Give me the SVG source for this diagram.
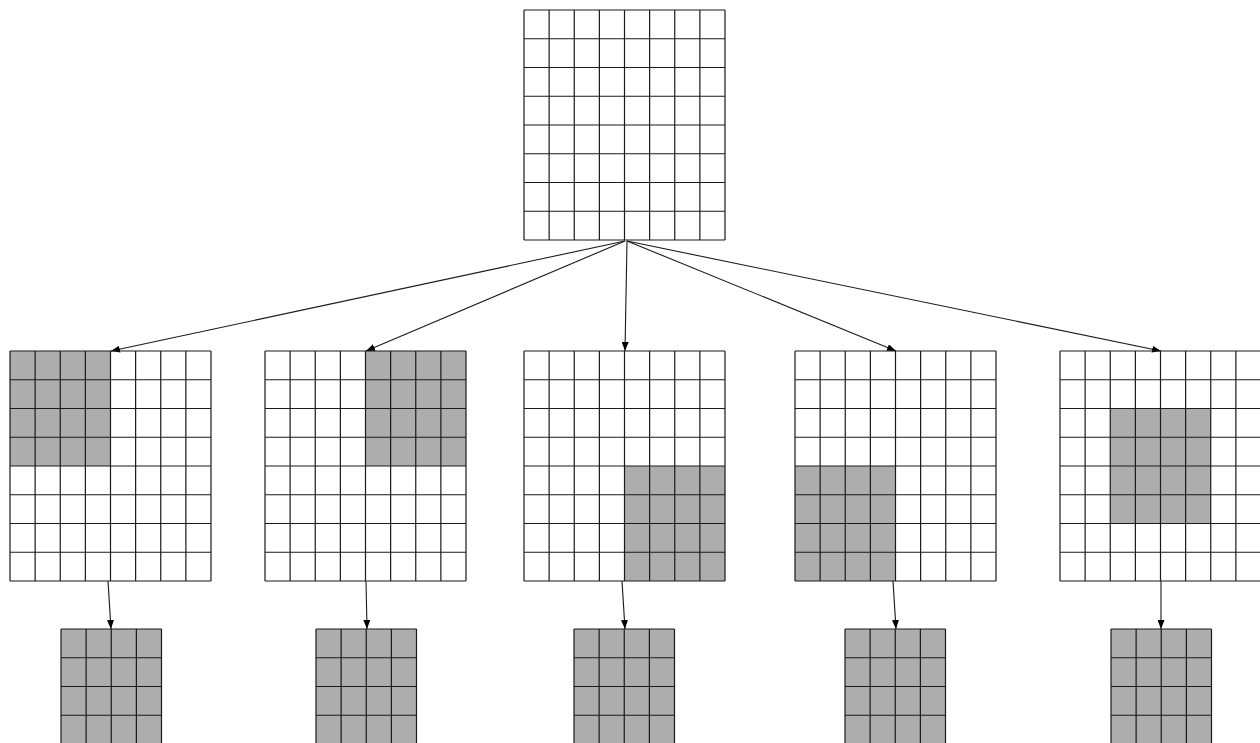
<svg xmlns="http://www.w3.org/2000/svg" xmlns:xlink="http://www.w3.org/1999/xlink" width="1260" height="743" viewBox="0 0 1260 743">
<style>
.gl{fill:none;stroke:#1a1a1a;stroke-width:1.2}
.sh{fill:#adadad;stroke:none}
.bg{fill:#ffffff;stroke:none}
.cn{fill:none;stroke:#1a1a1a;stroke-width:1.1}
</style>
<defs>
<marker id="ah" markerWidth="9" markerHeight="7" refX="9" refY="3.5" orient="auto" markerUnits="userSpaceOnUse">
<path d="M0,0 L9,3.5 L0,7 z" fill="#000"/>
</marker>
<g id="g8">
<path class="gl" d="M0,0V230M25.125,0V230M50.25,0V230M75.375,0V230M100.5,0V230M125.625,0V230M150.75,0V230M175.875,0V230M201,0V230M0,0H201M0,28.75H201M0,57.5H201M0,86.25H201M0,115H201M0,143.75H201M0,172.5H201M0,201.25H201M0,230H201"/>
</g>
<g id="g4">
<rect class="sh" x="0" y="0" width="100.5" height="115"/>
<path class="gl" d="M0,0V115M25.125,0V115M50.25,0V115M75.375,0V115M100.5,0V115M0,0H100.5M0,28.75H100.5M0,57.5H100.5M0,86.25H100.5M0,115H100.5"/>
</g>
</defs>
<rect class="bg" x="0" y="0" width="1260" height="743"/>
<g id="connectors">
<line class="cn" x1="625" y1="241" x2="111" y2="351" marker-end="url(#ah)"/>
<line class="cn" x1="625" y1="241" x2="366" y2="351" marker-end="url(#ah)"/>
<line class="cn" x1="627" y1="241" x2="625" y2="351" marker-end="url(#ah)"/>
<line class="cn" x1="627" y1="241" x2="896" y2="351" marker-end="url(#ah)"/>
<line class="cn" x1="627" y1="241" x2="1161" y2="351" marker-end="url(#ah)"/>
<line class="cn" x1="108" y1="581" x2="111" y2="629" marker-end="url(#ah)"/>
<line class="cn" x1="366" y1="581" x2="367" y2="629" marker-end="url(#ah)"/>
<line class="cn" x1="622" y1="581" x2="625" y2="629" marker-end="url(#ah)"/>
<line class="cn" x1="893" y1="581" x2="896" y2="629" marker-end="url(#ah)"/>
<line class="cn" x1="1161" y1="581" x2="1161" y2="629" marker-end="url(#ah)"/>
</g>
<g id="top">
<use xlink:href="#g8" href="#g8" x="524" y="10"/>
</g>
<g id="mid1">
<rect class="sh" x="10" y="351" width="100.5" height="115"/>
<use xlink:href="#g8" href="#g8" x="10" y="351"/>
</g>
<g id="mid2">
<rect class="sh" x="365.5" y="351" width="100.5" height="115"/>
<use xlink:href="#g8" href="#g8" x="265" y="351"/>
</g>
<g id="mid3">
<rect class="sh" x="624.5" y="466" width="100.5" height="115"/>
<use xlink:href="#g8" href="#g8" x="524" y="351"/>
</g>
<g id="mid4">
<rect class="sh" x="795" y="466" width="100.5" height="115"/>
<use xlink:href="#g8" href="#g8" x="795" y="351"/>
</g>
<g id="mid5">
<rect class="sh" x="1110.25" y="408.5" width="100.5" height="115"/>
<use xlink:href="#g8" href="#g8" x="1060" y="351"/>
</g>
<g id="out1"><use xlink:href="#g4" href="#g4" x="61" y="629"/></g>
<g id="out2"><use xlink:href="#g4" href="#g4" x="316" y="629"/></g>
<g id="out3"><use xlink:href="#g4" href="#g4" x="574" y="629"/></g>
<g id="out4"><use xlink:href="#g4" href="#g4" x="845" y="629"/></g>
<g id="out5"><use xlink:href="#g4" href="#g4" x="1111" y="629"/></g>
</svg>
